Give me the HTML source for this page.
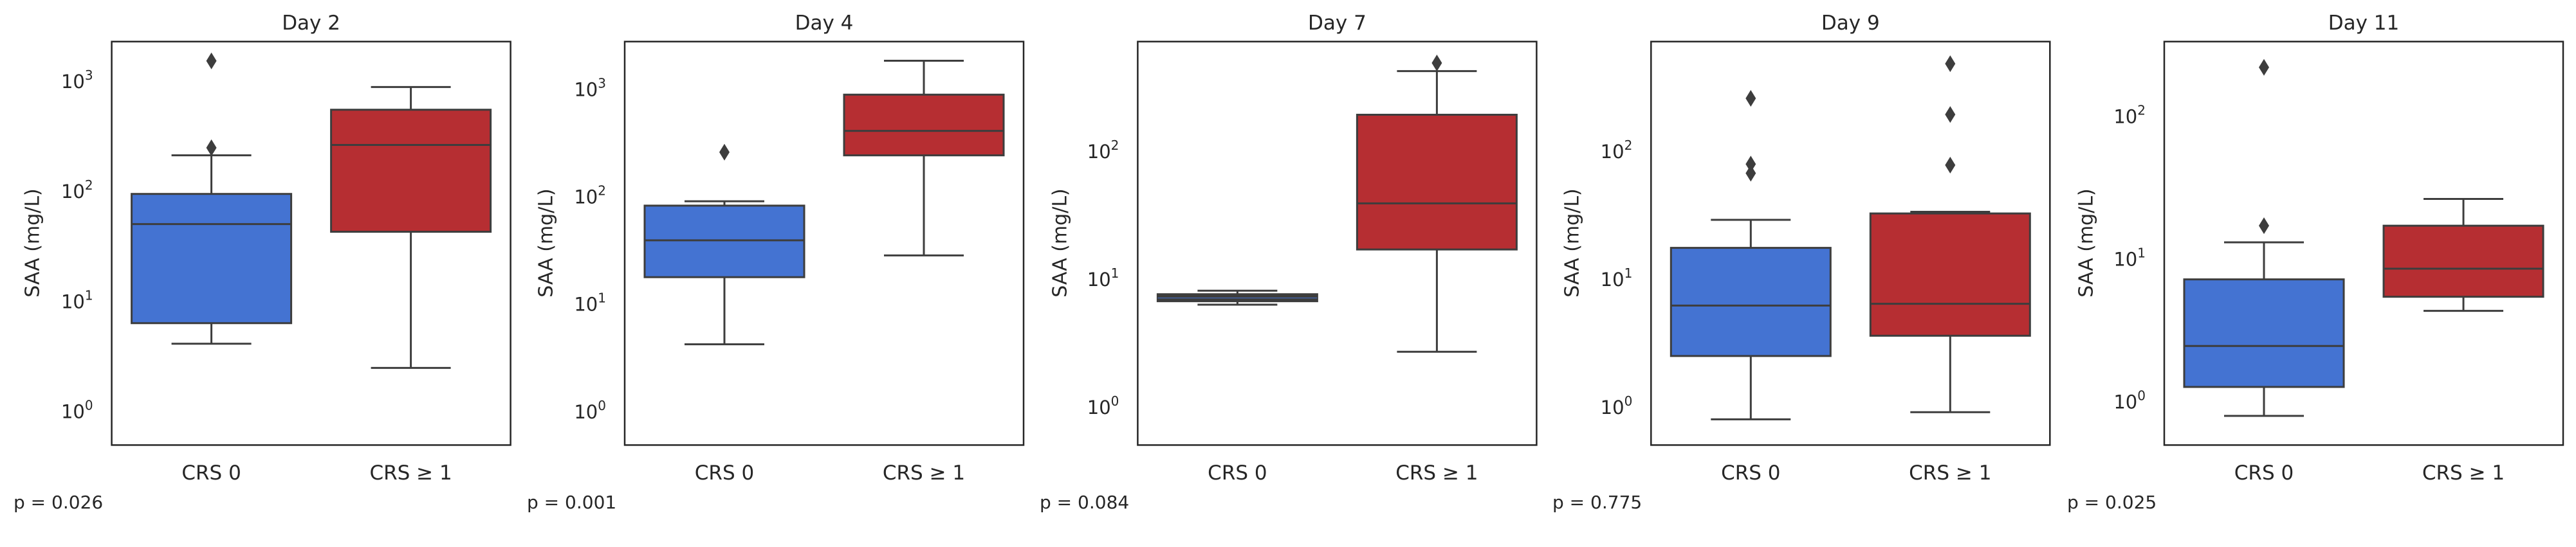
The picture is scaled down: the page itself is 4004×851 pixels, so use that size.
<!DOCTYPE html>
<html><head><meta charset="utf-8">
<style>
html,body{margin:0;padding:0;background:#fff;}
svg{display:block;font-family:"DejaVu Sans","Liberation Sans",sans-serif;}
</style></head>
<body>
<svg id="chart" width="4004" height="851" viewBox="0 0 4004 851" xmlns="http://www.w3.org/2000/svg"></svg>
<script>
// ---- data ----
const days = ["Day 2", "Day 4", "Day 7", "Day 9", "Day 11"];
const groups = ["CRS 0", "CRS \u2265 1"];
const pValues = ["p = 0.026", "p = 0.001", "p = 0.084", "p = 0.775", "p = 0.025"];
// [lowerWhisker, Q1, median, Q3, upperWhisker] per day, per group
const crs0Stats = [
  [4.1, 6.3, 50, 94, 211],
  [4.2, 17.7, 39, 82, 90],
  [6.3, 6.7, 7.1, 7.6, 8.1],
  [0.8, 2.5, 6.2, 17.5, 29],
  [0.79, 1.26, 2.44, 7.15, 13]
];
const crs1Stats = [
  [2.47, 42.6, 262, 547, 880],
  [28.2, 241, 407, 885, 1830],
  [2.7, 17, 39, 192, 421],
  [0.91, 3.6, 6.4, 32.5, 33.5],
  [4.3, 5.4, 8.5, 17, 26.2]
];
const crs0Outliers = [[247, 1520], [258], [], [258, 79, 67], [219, 17]];
const crs1Outliers = [[], [], [487], [481, 193, 77.6], []];
const tickExps = [[0, 1, 2, 3], [0, 1, 2, 3], [0, 1, 2], [0, 1, 2], [0, 1, 2]];
// axis log-limits (bottom, top)
const logMin = [-0.308, -0.315, -0.298, -0.298, -0.307];
const logMax = [3.357, 3.441, 2.855, 2.855, 2.521];

// ---- layout ----
const frameL = [173.6, 971, 1768.4, 2566.3, 3364];
const frameW = 620;
const frameT = 64.7, frameB = 692.4;
const ylabX = [52, 850, 1649, 2445, 3244];
const pX = [21, 819, 1616, 2413, 3213];
const colors = ["#4473d2", "#b62e32"];
const lineC = "#3d3d3d";

const svg = document.getElementById("chart");
const NS = "http://www.w3.org/2000/svg";
function mk(tag, attrs, parent) {
  const e = document.createElementNS(NS, tag);
  for (const k in attrs) e.setAttribute(k, attrs[k]);
  (parent || svg).appendChild(e);
  return e;
}

for (let d = 0; d < days.length; d++) {
  const g = mk("g", {});
  
  
  const L = frameL[d], R = L + frameW;
  const yS = v => frameB - (Math.log10(v) - logMin[d]) / (logMax[d] - logMin[d]) * (frameB - frameT);
  const yE = e => frameB - (e - logMin[d]) / (logMax[d] - logMin[d]) * (frameB - frameT);
  const xC = i => L + frameW * (0.25 + 0.5 * i);

  // title
  const t = mk("text", {x: (L + R) / 2, y: 46, "font-size": 31, fill: "#262626", "text-anchor": "middle"}, g);
  t.textContent = days[d];
  
  

  // y ticks
  tickExps[d].forEach(e => {
    const tl = mk("text", {x: L - 29, y: yE(e) + 11, "font-size": 29, fill: "#262626", "text-anchor": "end"}, g);
    
    
    const base = mk("tspan", {}, tl);
    base.textContent = "10";
    const sp = mk("tspan", {"font-size": 20, dy: -13}, tl);
    sp.textContent = String(e);
  });

  // y label
  const yl = mk("text", {x: ylabX[d], y: 378, "font-size": 30, fill: "#262626", "text-anchor": "middle", "dominant-baseline": "middle", transform: `rotate(-90 ${ylabX[d]} 378)`}, g);
  yl.textContent = "SAA (mg/L)";
  
  

  // boxes
  [crs0Stats[d], crs1Stats[d]].forEach((s, i) => {
    const bg = mk("g", {}, g);
    
    
    const cx = xC(i), hw = 124, cw = 62;
    mk("line", {x1: cx, x2: cx, y1: yS(s[0]), y2: yS(s[1]), stroke: lineC, "stroke-width": 3}, bg);
    mk("line", {x1: cx, x2: cx, y1: yS(s[3]), y2: yS(s[4]), stroke: lineC, "stroke-width": 3}, bg);
    mk("line", {x1: cx - cw, x2: cx + cw, y1: yS(s[0]), y2: yS(s[0]), stroke: lineC, "stroke-width": 3}, bg);
    mk("line", {x1: cx - cw, x2: cx + cw, y1: yS(s[4]), y2: yS(s[4]), stroke: lineC, "stroke-width": 3}, bg);
    const h = yS(s[1]) - yS(s[3]);
    mk("rect", {x: cx - hw, y: yS(s[3]), width: 2 * hw, height: Math.max(h, 1), fill: h < 14 ? lineC : colors[i], stroke: lineC, "stroke-width": 3}, bg);
    mk("line", {x1: cx - hw, x2: cx + hw, y1: yS(s[2]), y2: yS(s[2]), stroke: h < 14 ? colors[i] : lineC, "stroke-width": h < 14 ? 1 : 3}, bg);
  });

  // outliers
  [crs0Outliers[d], crs1Outliers[d]].forEach((arr, i) => {
    arr.forEach(v => {
      const cx = xC(i), cy = yS(v);
      const p = mk("polygon", {points: `${cx},${cy - 13} ${cx + 8},${cy} ${cx},${cy + 13} ${cx - 8},${cy}`, fill: lineC}, g);
      
      
    });
  });

  // frame
  const fr = mk("rect", {x: L, y: frameT, width: frameW, height: frameB - frameT, fill: "none", stroke: "#262626", "stroke-width": 2.5}, g);
  
  

  // x labels
  groups.forEach((gn, i) => {
    const xl = mk("text", {x: xC(i), y: 746, "font-size": 31, fill: "#262626", "text-anchor": "middle"}, g);
    xl.textContent = gn;
    
    
  });

  // p value
  const pv = mk("text", {x: pX[d], y: 791, "font-size": 28, fill: "#262626"}, g);
  pv.textContent = pValues[d];
  
  
}
</script>
</body></html>
